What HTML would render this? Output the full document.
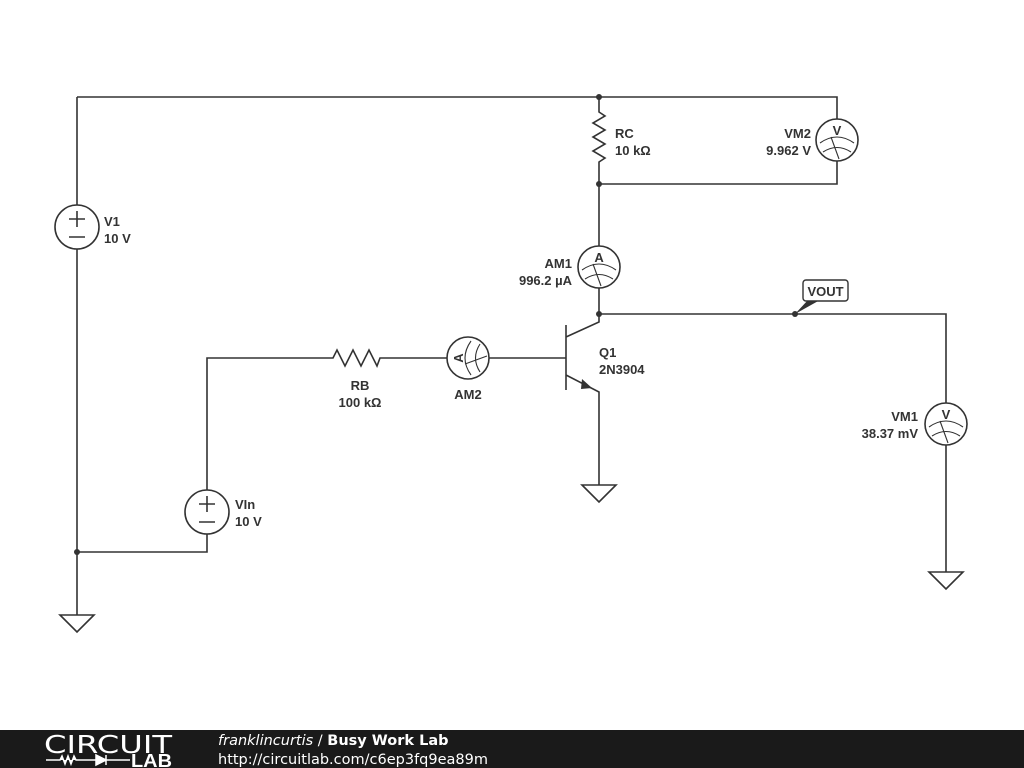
<!DOCTYPE html>
<html><head><meta charset="utf-8"><style>
html,body{margin:0;padding:0;background:#fff;width:1024px;height:768px;overflow:hidden}
svg{display:block}
.t{font-family:"Liberation Sans",Arial,sans-serif;font-weight:bold;font-size:13px;fill:#333}
</style></head><body>
<svg width="1024" height="768" viewBox="0 0 1024 768">
<defs>
<g id="meter"><circle r="21" fill="#fff" stroke="#333" stroke-width="1.6"/>
<path d="M-17,3 Q0,-9 17,3 M-14,12 Q0,3 14,12 M-6,-3 L2,19" fill="none" stroke="#333" stroke-width="1.1"/></g>
<g id="src"><circle r="22" fill="#fff" stroke="#333" stroke-width="1.6"/>
<path d="M-8,-8 H8 M0,-16 V0 M-8,10 H8" stroke="#333" stroke-width="1.6"/></g>
<path id="gnd" d="M-17,0 H17 L0,17 Z" fill="#fff" stroke="#333" stroke-width="1.6"/>
</defs>
<g fill="none" stroke="#333" stroke-width="1.6">
<path d="M77,97 H837 V119 M837,161 V184 H599"/>
<path d="M599,97 V112 l6,4 l-12,7 l12,7 l-12,7 l12,7 l-12,7 l12,7 l-6,4 V246"/>
<path d="M77,97 V205 M77,249 V615 M77,552 H207 V534 M207,490 V358 H333 l4,-8 l8,16 l8,-16 l8,16 l8,-16 l8,16 l3,-8 H447"/>
<path d="M489,358 H566 M566,325 V390 M566,337 L599,322 V288 M566,375 L599,392 V485"/>
<path d="M599,314 H946 V403 M946,445 V572"/>
</g>
<path d="M582,379 L592,388 L581,389 Z" fill="#333"/>
<g fill="#333"><circle cx="599" cy="97" r="3"/><circle cx="599" cy="184" r="3"/><circle cx="599" cy="314" r="3"/><circle cx="77" cy="552" r="3"/><circle cx="795" cy="314" r="3"/></g>
<path d="M795,314 L808,300 L820,300 Z" fill="#333"/>
<rect x="803" y="280" width="45" height="21" rx="3" fill="#fff" stroke="#333" stroke-width="1.4"/>
<text x="825.5" y="296" class="t" text-anchor="middle">VOUT</text>
<use href="#src" x="77" y="227"/>
<use href="#src" x="207" y="512"/>
<use href="#gnd" x="77" y="615"/>
<use href="#gnd" x="599" y="485"/>
<use href="#gnd" x="946" y="572"/>
<g transform="translate(837,140)"><use href="#meter"/><text class="t" x="0" y="-5" text-anchor="middle" font-size="16">V</text></g>
<g transform="translate(946,424)"><use href="#meter"/><text class="t" x="0" y="-5" text-anchor="middle" font-size="16">V</text></g>
<g transform="translate(599,267)"><use href="#meter"/><text class="t" x="0" y="-5" text-anchor="middle" font-size="16">A</text></g>
<g transform="translate(468,358) rotate(-90)"><use href="#meter"/><text class="t" x="0" y="-5" text-anchor="middle" font-size="16">A</text></g>
<text class="t" x="104" y="226">V1</text><text class="t" x="104" y="243">10 V</text>
<text class="t" x="235" y="509">VIn</text><text class="t" x="235" y="526">10 V</text>
<text class="t" x="360" y="390" text-anchor="middle">RB</text><text class="t" x="360" y="407" text-anchor="middle">100 kΩ</text>
<text class="t" x="468" y="399" text-anchor="middle">AM2</text>
<text class="t" x="599" y="357">Q1</text><text class="t" x="599" y="374">2N3904</text>
<text class="t" x="615" y="138">RC</text><text class="t" x="615" y="155">10 kΩ</text>
<text class="t" x="811" y="138" text-anchor="end">VM2</text><text class="t" x="811" y="155" text-anchor="end">9.962 V</text>
<text class="t" x="572" y="268" text-anchor="end">AM1</text><text class="t" x="572" y="285" text-anchor="end">996.2 µA</text>
<text class="t" x="918" y="421" text-anchor="end">VM1</text><text class="t" x="918" y="438" text-anchor="end">38.37 mV</text>
<rect x="0" y="730" width="1024" height="38" fill="#1a1a1a"/>
<text x="44" y="753" font-family="DejaVu Sans,sans-serif" font-size="25" fill="#fff" font-weight="normal" textLength="128" lengthAdjust="spacingAndGlyphs">CIRCUIT</text>
<path d="M46,760 H60 l2,-4 l3,8 l3,-8 l3,8 l3,-8 l2,4 H96 M96,755 V765 L106,760 Z M106,755 V765 M106,760 H130" stroke="#fff" stroke-width="1.5" fill="#fff"/>
<text x="131" y="767" font-family="Liberation Sans,sans-serif" font-size="18" font-weight="bold" fill="#fff" textLength="41" lengthAdjust="spacingAndGlyphs">LAB</text>
<text x="218" y="745" font-family="DejaVu Sans,sans-serif" font-size="14.5" fill="#fff"><tspan font-style="italic">franklincurtis</tspan> / <tspan font-weight="bold">Busy Work Lab</tspan></text>
<text x="218" y="764" font-family="DejaVu Sans,sans-serif" font-size="14.5" fill="#fff">http://circuitlab.com/c6ep3fq9ea89m</text>
</svg>
</body></html>
